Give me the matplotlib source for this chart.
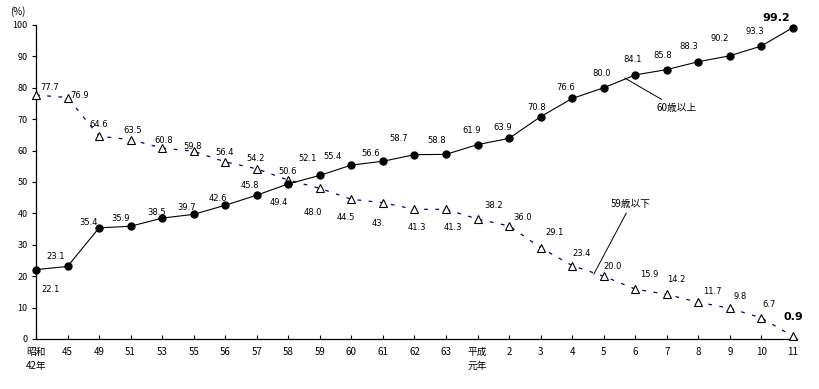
import matplotlib
matplotlib.use("Agg")
import matplotlib.pyplot as plt

plt.rcParams['font.family'] = ['Noto Sans CJK JP', 'DejaVu Sans']

categories = ["昭和\n42年", "45", "49", "51", "53", "55", "56", "57", "58", "59",
              "60", "61", "62", "63", "平成\n元年", "2", "3", "4", "5", "6",
              "7", "8", "9", "10", "11"]
over60 = [22.1, 23.1, 35.4, 35.9, 38.5, 39.7, 42.6, 45.8, 49.4, 52.1, 55.4, 56.6,
          58.7, 58.8, 61.9, 63.9, 70.8, 76.6, 80.0, 84.1, 85.8, 88.3, 90.2, 93.3, 99.2]
under59 = [77.7, 76.9, 64.6, 63.5, 60.8, 59.8, 56.4, 54.2, 50.6, 48.0, 44.5, 43.4,
           41.3, 41.3, 38.2, 36.0, 29.1, 23.4, 20.0, 15.9, 14.2, 11.7, 9.8, 6.7, 0.9]
under59_text = [f"{v:.1f}" for v in under59]
under59_text[11] = "43."

# label offsets in pixels (layout)
off60 = [(15, -20), (-12, 10), (-11, 5), (-10, 8), (-6, 6), (-7, 7), (-7, 7), (-7, 10),
         (-9, -19), (-12, 17), (-19, 9), (-12, 8), (-16, 16), (-9, 14), (-6, 14),
         (-6, 11), (-4, 9), (-6, 11), (-2, 14), (-3, 15), (-4, 14), (-10, 15),
         (-10, 17), (-7, 15), (-17, 10)]
off59 = [(14, 8), (12, 2), (0, 12), (2, 9), (2, 8), (-1, 5), (-1, 9), (-1, 10), (-1, 9),
         (-7, -24), (-6, -18), (-5, -21), (2, -18), (7, -18), (16, 14), (14, 8),
         (14, 15), (10, 12), (9, 10), (14, 15), (10, 15), (14, 11), (10, 12),
         (8, 13), (0, 19)]

W, H = 820, 389
fig = plt.figure(figsize=(W / 100, H / 100), dpi=100)
ax = fig.add_axes([36 / W, 1 - 339 / H, (797 - 36) / W, (339 - 25) / H])

x = list(range(len(categories)))
ax.plot(x, under59, color='#000080', lw=0.9, dashes=(3, 6), zorder=2)
ax.plot(x, under59, linestyle='none', marker='^', ms=5.5, mfc='white', mec='black',
        mew=0.8, zorder=3, clip_on=False)
ax.plot(x, over60, color='black', lw=0.8, marker='o', ms=5, zorder=4, clip_on=False)

for i, v in enumerate(over60):
    bold = i == len(over60) - 1
    ax.annotate(f"{v:.1f}", (i, v), xytext=off60[i], textcoords='offset pixels',
                ha='center', va='center', fontsize=8 if bold else 6,
                fontweight='bold' if bold else 'normal', family='DejaVu Sans')
for i, v in enumerate(under59):
    bold = i == len(under59) - 1
    ax.annotate(under59_text[i], (i, v), xytext=off59[i], textcoords='offset pixels',
                ha='center', va='center', fontsize=8 if bold else 6,
                fontweight='bold' if bold else 'normal', family='DejaVu Sans')

ax.annotate("60歳以上", xy=(18.67, 83.1), xytext=(20.3, 73.6), ha='center', va='center',
            fontsize=7, arrowprops=dict(arrowstyle='-', color='black', lw=0.7,
                                        shrinkA=1, shrinkB=0))
ax.annotate("59歳以下", xy=(17.69, 20.7), xytext=(18.87, 43.0), ha='center', va='center',
            fontsize=7, arrowprops=dict(arrowstyle='-', color='black', lw=0.7,
                                        shrinkA=1, shrinkB=0))

ax.set_xlim(0, 24.13)
ax.set_ylim(0, 100)
ax.set_yticks(range(0, 101, 10))
ax.set_xticks(x)
ax.set_xticklabels(categories, fontsize=7, linespacing=1.5, va='top')
ax.tick_params(axis='y', direction='out', length=3, width=0.8, labelsize=6.5, pad=3)
ax.tick_params(axis='x', direction='in', length=3, width=0.8, pad=6)
for s in ('top', 'right'):
    ax.spines[s].set_visible(False)
for s in ('left', 'bottom'):
    ax.spines[s].set_linewidth(0.9)

fig.text(18 / W, 1 - 12 / H, "(%)", ha='center', va='center', fontsize=7)

fig.savefig("out.png", dpi=100)
